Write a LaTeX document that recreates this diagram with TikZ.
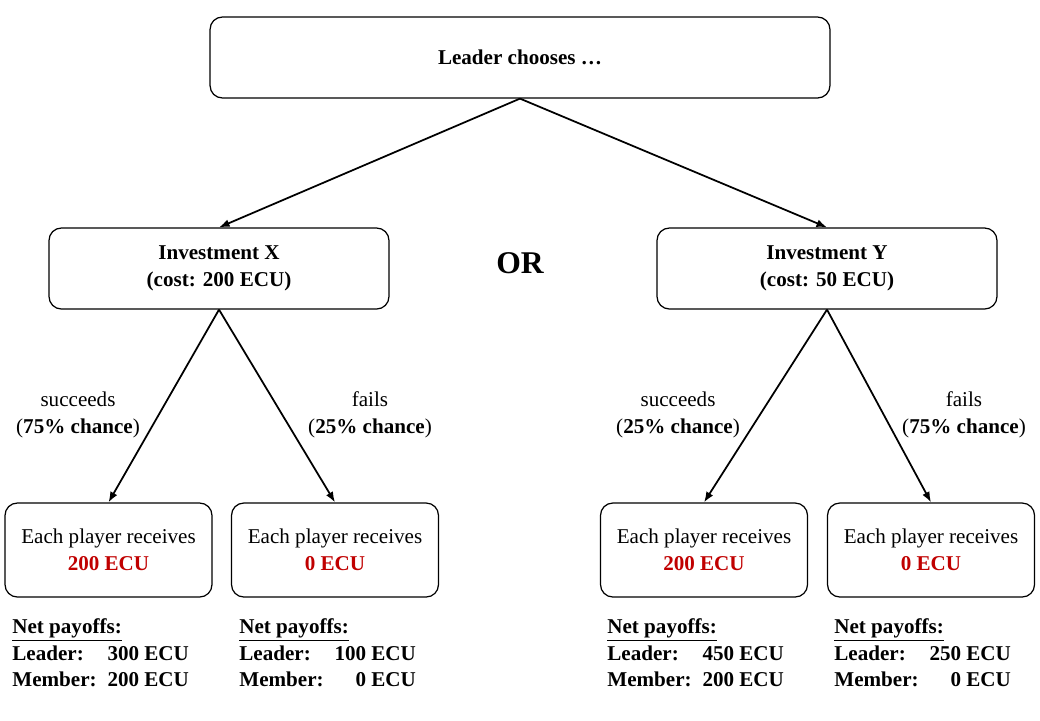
\documentclass[tikz,border=0pt]{standalone}
\usepackage{fontspec}
\setmainfont{Liberation Serif}
\usepackage{xcolor}
\usepackage{tikz}
\usetikzlibrary{arrows.meta}
\tikzset{>={Latex[length=6pt,width=4.5pt]}}
\definecolor{ecured}{HTML}{C00000}
\tikzset{
  box/.style={draw=black, line width=0.7pt, rounded corners=7pt, align=center, font=\fontsize{12}{15.3}\selectfont},
  branch/.style={->, line width=1pt},
  chance/.style={align=center, font=\fontsize{12}{15.3}\selectfont},
  payoff/.style={anchor=north west, inner sep=0pt, font=\bfseries\fontsize{12}{15}\selectfont},
}

\begin{document}
\begin{tikzpicture}[x=0.02cm, y=-0.02cm]
\useasboundingbox (0,0) rectangle (1040,720);

\node[box, minimum width=12.4cm, minimum height=1.62cm] (lead) at (520,57.5) {\textbf{Leader chooses …}};
\node[box, minimum width=6.8cm, minimum height=1.62cm] (invx) at (219,268.5) {\textbf{Investment X}\\\textbf{(cost: 200 ECU)}};
\node[box, minimum width=6.8cm, minimum height=1.62cm] (invy) at (827,268.5) {\textbf{Investment Y}\\\textbf{(cost: 50 ECU)}};
\node[font=\bfseries\fontsize{18}{20}\selectfont] (or) at (520,263) {OR};

\draw[branch] (lead.south) -- (invx.north);
\draw[branch] (lead.south) -- (invy.north);

 \foreach \n/\x/\amt in {sx/108.5/200, fx/335/0, sy/704/200, fy/931/0}{
    \node[box, minimum width=4.14cm, minimum height=1.88cm] (\n) at (\x,550) {Each player receives\\\textcolor{ecured}{\textbf{\amt~ECU}}};
    }

\draw[branch] (invx.south) -- (sx.north);
\draw[branch] (invx.south) -- (fx.north);
\draw[branch] (invy.south) -- (sy.north);
\draw[branch] (invy.south) -- (fy.north);

\node[chance] (psx) at (78,414.5) {succeeds\\(\textbf{75\% chance})};
\node[chance] (pfx) at (370,414.5) {fails\\(\textbf{25\% chance})};
\node[chance] (psy) at (678,414.5) {succeeds\\(\textbf{25\% chance})};
\node[chance] (pfy) at (964,414.5) {fails\\(\textbf{75\% chance})};

 \foreach \n/\x/\lv/\mv in {nsx/12/300/200, nfx/239/100/0, nsy/607/450/200, nfy/834/250/0}{
    \node[payoff] (\n) at (\x,615) {\begin{tabular}{@{}l@{\hspace{6.2pt}}r@{}}
      \multicolumn{2}{@{}l}{\underline{Net payoffs:}}\\
      Leader: & \lv~ECU\\
      Member: & \mv~ECU
    \end{tabular}};
    }

\end{tikzpicture}
\end{document}
